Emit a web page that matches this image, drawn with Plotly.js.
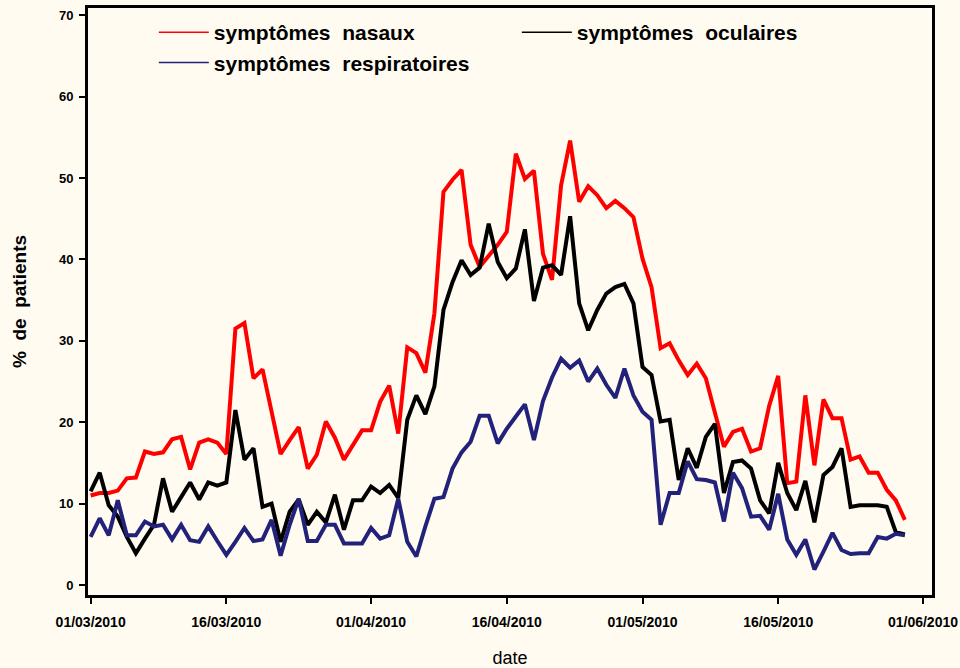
<!DOCTYPE html>
<html><head><meta charset="utf-8">
<script src="https://cdn.plot.ly/plotly-3.0.1.min.js"></script>
<style>html,body{margin:0;padding:0;background:#FFFBF0;}</style>
</head><body><div id="chart" style="width:960px;height:668px;"></div>
<script>
const startDay = [2010, 2, 1];
const nasaux = [11.0,11.3,11.3,11.6,13.1,13.2,16.4,16.1,16.3,17.9,18.2,14.2,17.5,17.9,17.5,16.1,31.5,32.2,25.4,26.5,
  21.3,16.1,17.8,19.4,14.3,16.0,20.1,18.1,15.4,17.2,19.0,19.0,22.5,24.5,18.6,29.2,28.5,26.1,33.4,48.3,
  49.8,51.0,41.8,39.1,40.5,41.8,43.4,53.0,49.9,50.9,40.7,37.5,49.1,54.6,47.1,49.0,47.9,46.3,47.2,46.3,
  45.2,40.1,36.6,29.1,29.7,27.6,25.8,27.2,25.4,21.1,17.0,18.8,19.2,16.4,16.8,22.0,25.7,12.5,12.7,23.3,
  14.7,22.8,20.5,20.5,15.4,15.8,13.8,13.8,11.7,10.4,8.0];
const oculaires = [11.5,13.8,9.8,8.4,5.9,3.9,5.7,7.4,13.1,9.0,10.8,12.6,10.5,12.6,12.2,12.6,21.5,15.4,16.8,9.6,
  10.0,5.3,9.0,10.5,7.4,9.0,7.7,11.1,6.8,10.4,10.4,12.1,11.3,12.3,10.7,20.3,23.3,21.0,24.4,33.8,
  37.2,39.9,38.1,39.0,44.4,39.7,37.7,38.9,43.7,34.9,39.0,39.3,38.1,45.3,34.6,31.3,33.8,35.8,36.6,37.0,
  34.6,26.8,25.8,20.1,20.3,12.9,16.8,14.4,18.2,19.8,11.3,15.1,15.3,14.3,10.4,8.8,15.0,11.3,9.2,12.8,
  7.7,13.5,14.5,16.8,9.6,9.8,9.8,9.8,9.6,6.5,6.2];
const respiratoires = [5.9,8.2,6.1,10.4,6.1,6.1,7.8,7.2,7.4,5.6,7.4,5.5,5.3,7.2,5.4,3.7,5.3,7.0,5.4,5.6,
  8.0,3.6,7.4,10.6,5.4,5.4,7.4,7.4,5.1,5.1,5.1,7.0,5.7,6.1,10.6,5.3,3.5,7.2,10.6,10.8,
  14.3,16.3,17.6,20.8,20.8,17.4,19.2,20.7,22.2,17.8,22.6,25.5,27.8,26.7,27.6,25.0,26.6,24.6,23.0,26.6,
  23.3,21.3,20.3,7.4,11.3,11.3,15.2,13.0,12.9,12.6,7.8,13.8,11.9,8.4,8.5,6.8,11.2,5.6,3.7,5.6,
  1.9,4.1,6.4,4.3,3.8,3.9,3.9,5.9,5.7,6.3,6.1];
const seriesNames = ['symptômes\u00A0 nasaux','symptômes\u00A0 oculaires','symptômes\u00A0 respiratoires'];
const tickDates = ['2010-03-01','2010-03-16','2010-04-01','2010-04-16','2010-05-01','2010-05-16','2010-06-01'];
const tickLabels = ['01/03/2010','16/03/2010','01/04/2010','16/04/2010','01/05/2010','16/05/2010','01/06/2010'];
const yTicks = [0,10,20,30,40,50,60,70];

function buildDates(n){
  const out=[]; const t0=Date.UTC(startDay[0],startDay[1],startDay[2]);
  for(let i=0;i<n;i++){ out.push(new Date(t0+i*86400000).toISOString().slice(0,10)); }
  return out;
}
const dates = buildDates(nasaux.length);
const colors = ['#FF0000','#000000','#22227A'];
const vals = [nasaux, oculaires, respiratoires];
const traces = vals.map((v,i)=>({
  x: dates, y: v, type:'scatter', mode:'lines', name: seriesNames[i],
  line:{color:colors[i], width:4}, showlegend:false, legendgroup:'g'+i
}));
// legend-only entries with thin lines, as in the reference legend
const legendTraces = seriesNames.map((n,i)=>({
  x:[null], y:[null], type:'scatter', mode:'lines', name:n,
  line:{color:colors[i], width:1.5}, showlegend:true, legendgroup:'g'+i
}));
const bg = '#FFFBF0';
const layout = {
  width:960, height:668,
  paper_bgcolor:bg, plot_bgcolor:bg,
  margin:{l:88, r:28, t:8, b:73},
  font:{family:'Liberation Sans, Arial, sans-serif', color:'#000'},
  showlegend:true,
  legend:{orientation:'h', x:0.078, xanchor:'left', y:0.993, yanchor:'top',
    bgcolor:'rgba(0,0,0,0)', entrywidth:298, entrywidthmode:'pixels', itemwidth:50,
    font:{family:'Liberation Sans, Arial, sans-serif', size:21, weight:'bold'}, tracegroupgap:0},
  xaxis:{type:'date', range:['2010-02-28 17:00','2010-06-02 00:00'],
    tickvals:tickDates, ticktext:tickLabels, ticks:'outside', ticklen:6, tickwidth:2, tickcolor:'#000',
    showgrid:false, zeroline:false, showline:true, linewidth:3, linecolor:'#000', mirror:true,
    tickfont:{size:14, weight:'bold'}, ticklabelstandoff:6,
    title:{text:'date', font:{size:18}, standoff:24}},
  yaxis:{range:[-1.23,70.9], tickvals:yTicks, ticks:'outside', ticklen:6, tickwidth:2, tickcolor:'#000',
    showgrid:false, zeroline:false, showline:true, linewidth:3, linecolor:'#000', mirror:true,
    tickfont:{size:13, weight:'bold'}, ticklabelstandoff:3,
    title:{text:'%\u00A0 de\u00A0 patients', font:{size:19, weight:'bold'}, standoff:28}}
};
Plotly.newPlot('chart', traces.concat(legendTraces), layout, {displayModeBar:false, staticPlot:true});
</script></body></html>
